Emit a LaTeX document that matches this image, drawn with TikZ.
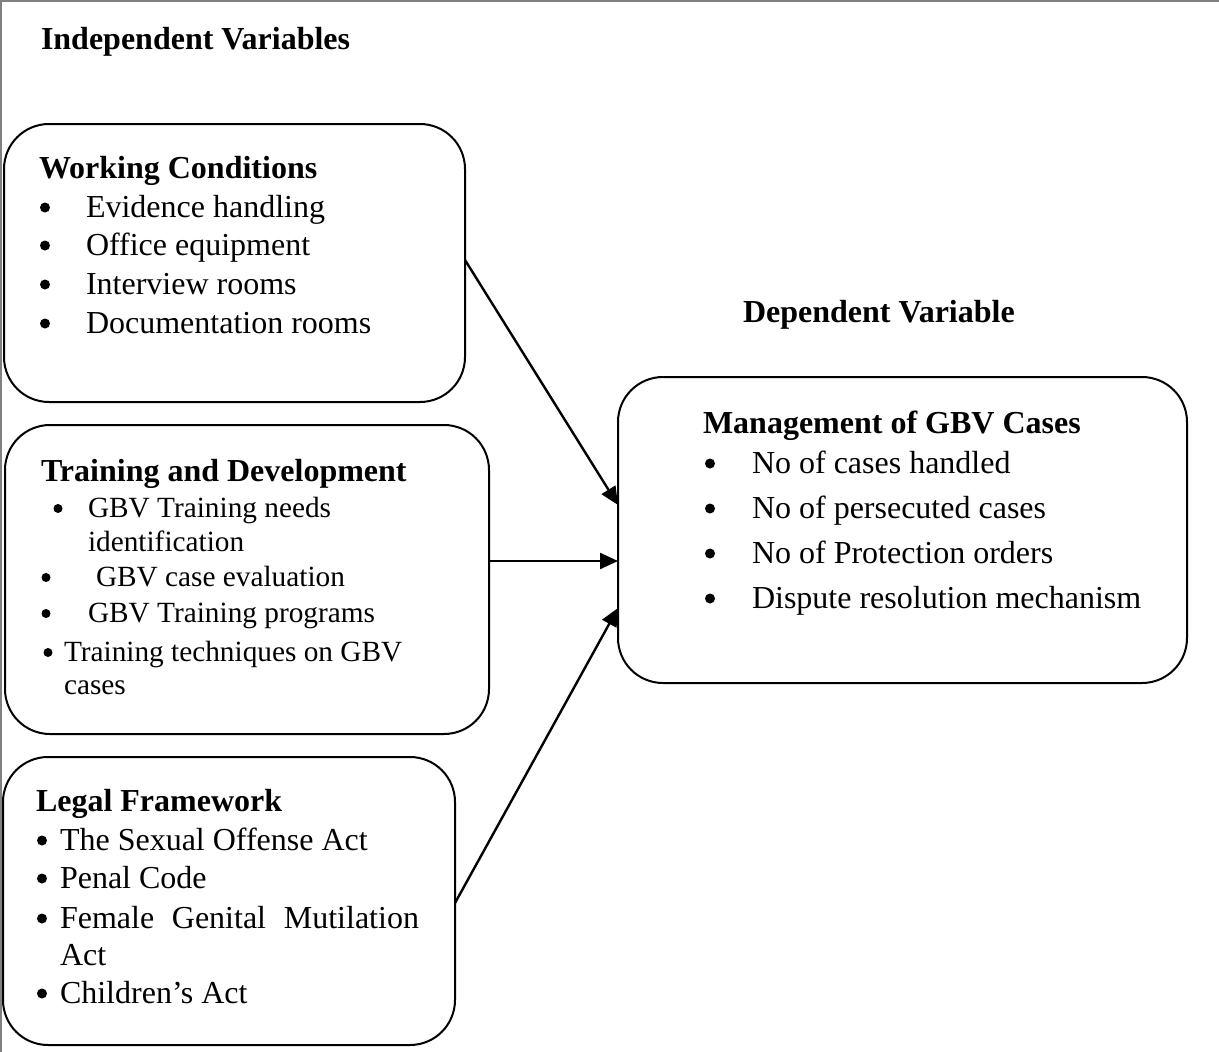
\documentclass[tikz,border=0pt]{standalone}
\usepackage{fontspec}
\setmainfont{Liberation Serif}
\usetikzlibrary{arrows.meta,calc}
\definecolor{framegray}{RGB}{128,128,128}
\newcommand\fsA{\fontsize{32}{38}\selectfont}
\newcommand\fsB{\fontsize{29.3}{35}\selectfont}
\tikzset{
  box/.style={draw=black, line width=2pt, rounded corners=45pt, inner sep=0pt, outer sep=0pt},
  txt/.style={anchor=base west, inner sep=0pt, outer sep=0pt, font=\fsA},
  txtB/.style={anchor=base west, inner sep=0pt, outer sep=0pt, font=\fsB},
  hd/.style={anchor=base west, inner sep=0pt, outer sep=0pt, font=\fsA\bfseries},
  dot/.style={circle, fill=black, inner sep=0pt, outer sep=0pt, minimum size=10pt},
  dotB/.style={circle, fill=black, inner sep=0pt, outer sep=0pt, minimum size=9pt},
  conn/.style={line width=2.4pt, -{Triangle[length=18pt,width=16pt]}}
}
\begin{document}
\begin{tikzpicture}[x=1pt,y=-1pt]
\useasboundingbox (0,0) rectangle (1219,1052);
\draw[framegray, line width=2pt] (1,1052) -- (1,1) -- (1219,1);

% titles
\node[hd] (tind) at (41,49) {Independent Variables};
\node[hd] (tdep) at (743,322) {Dependent Variable};

% boxes
\node[box, minimum width=461pt, minimum height=278pt] (wc) at (234.5,263) {};
\node[box, minimum width=484pt, minimum height=309pt] (td) at (247,579.5) {};
\node[box, minimum width=452pt, minimum height=288pt] (lf) at (229,901) {};
\node[box, minimum width=569pt, minimum height=306pt] (mg) at (902.5,530) {};

% Working Conditions
\node[hd] (wch) at (39,178) {Working Conditions};
\node[dot] (wcb1) at (45,207.5) {};
\node[txt] (wct1) at (86,217) {Evidence handling};
\node[dot] (wcb2) at (45,245.5) {};
\node[txt] (wct2) at (86,255) {Office equipment};
\node[dot] (wcb3) at (45,284.5) {};
\node[txt] (wct3) at (86,294) {Interview rooms};
\node[dot] (wcb4) at (45,323.5) {};
\node[txt] (wct4) at (86,333) {Documentation rooms};

% Training and Development
\node[hd] (tdh) at (41,481) {Training and Development};
\node[dotB] (tdb1) at (58,508.5) {};
\node[txtB] (tdt1) at (88,517) {GBV Training needs};
\node[txtB] (tdt1b) at (88,551) {identification};
\node[dotB] (tdb2) at (46,577.5) {};
\node[txtB] (tdt2) at (96,586) {GBV case evaluation};
\node[dotB] (tdb3) at (46,613.5) {};
\node[txtB] (tdt3) at (88,622) {GBV Training programs};
\node[dotB] (tdb4) at (48,652.5) {};
\node[txtB] (tdt4) at (64,661) {Training techniques on GBV};
\node[txtB] (tdt4b) at (64,694) {cases};

% Legal Framework
\node[hd] (lfh) at (36,811) {Legal Framework};
\node[dot] (lfb1) at (42,840.5) {};
\node[txt] (lft1) at (60,850) {The Sexual Offense Act};
\node[dot] (lfb2) at (42,878.5) {};
\node[txt] (lft2) at (60,888) {Penal Code};
\node[dot] (lfb3) at (42,918.5) {};
\node[txt] (lft3) at (60,928) {\hbox to 359pt{Female\hfil Genital\hfil Mutilation}};
\node[txt] (lft3b) at (60,965) {Act};
\node[dot] (lfb4) at (42,993.5) {};
\node[txt] (lft4) at (60,1003) {Children’s Act};

% Management of GBV Cases
\node[hd] (mgh) at (703,433) {Management of GBV Cases};
\node[dot] (mgb1) at (710,463.5) {};
\node[txt] (mgt1) at (752,473) {No of cases handled};
\node[dot] (mgb2) at (710,508.5) {};
\node[txt] (mgt2) at (752,518) {No of persecuted cases};
\node[dot] (mgb3) at (710,553.5) {};
\node[txt] (mgt3) at (752,563) {No of Protection orders};
\node[dot] (mgb4) at (710,598.5) {};
\node[txt] (mgt4) at (752,608) {Dispute resolution mechanism};

% connectors
\coordinate (s1) at ([yshift=3pt]wc.east);
\coordinate (e1) at ([yshift=25pt]mg.west);
\draw[conn] (s1) -- (e1);
\coordinate (s2) at ([yshift=18.5pt]td.east);
\draw[conn] (s2) -- (s2 -| mg.west);
\coordinate (s3) at ([yshift=-2pt]lf.east);
\coordinate (e3) at ([yshift=-78pt]mg.west);
\draw[conn] (s3) -- (e3);
\end{tikzpicture}
\end{document}
